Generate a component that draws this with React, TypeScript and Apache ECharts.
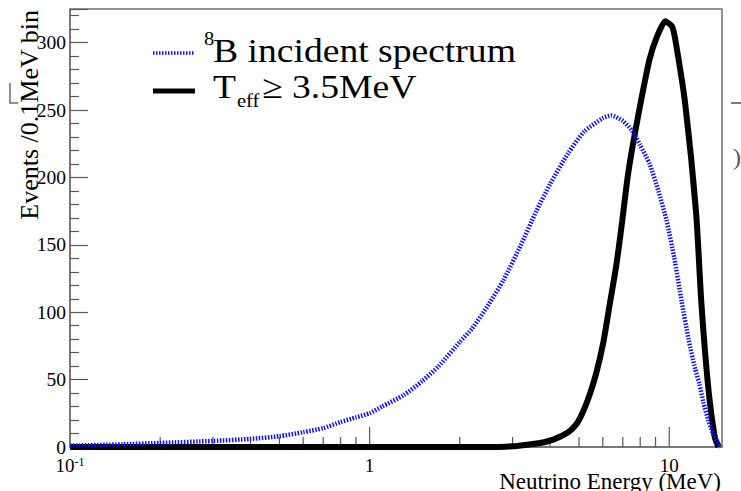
import React, { useEffect, useRef } from "react";
import * as echarts from "echarts";

const blueEnergy = [0.1, 0.15, 0.2, 0.3, 0.4, 0.5, 0.6, 0.7, 0.8, 0.9, 1.0, 1.1, 1.3, 1.5, 1.7, 2.0, 2.2, 2.5, 2.8, 3.2, 3.6, 4.0, 4.6, 5.2, 6.0, 6.4, 7.0, 7.5, 8.0, 8.6, 9.2, 9.8, 10.4, 11.0, 11.6, 12.2, 12.6, 13.0, 13.5, 14.0, 14.6, 14.9];
const blueValues = [1, 2, 3, 4.5, 6, 8, 11, 14, 18.5, 22, 25, 30, 38.5, 49, 60, 78, 88, 106, 124, 150, 175, 195, 218, 234, 244, 246, 242, 235, 224, 210, 190, 168, 140, 108, 80, 58, 47, 33, 20, 10, 2, 0];

const blackEnergy = [0.1, 1.0, 2.5, 3.0, 3.3, 3.7, 4.1, 4.6, 4.9, 5.13, 5.41, 5.71, 6.03, 6.31, 6.66, 6.97, 7.24, 7.53, 7.94, 8.58, 9.12, 9.7, 10.23, 10.5, 11.3, 12.3, 12.8, 13.5, 14.2, 14.6];
const blackValues = [0, 0, 0, 0.5, 1.5, 3, 5.5, 11, 17, 25, 38, 55, 78, 104, 135, 168, 198, 222, 250, 287, 305, 316, 312, 301, 255, 173, 107, 44, 7, 0];

const xMajorTicks = [1, 10];
const xMinorTicks = [0.2, 0.3, 0.4, 0.5, 0.6, 0.7, 0.8, 0.9, 2, 3, 4, 5, 6, 7, 8, 9];

const FONT = "Liberation Serif";
const FRAME = "#7d6b6b";
const TICK = "#5f5555";
const BLUE = "#1010ff";
const SX = 1.14;

const serif = (px: number) => `${px}px "Liberation Serif", "Times New Roman", serif`;

export default function App() {
  const ref = useRef<HTMLDivElement>(null);
  useEffect(() => {
    if (!ref.current) return;
    const chart = echarts.init(ref.current, undefined, { renderer: "svg" });
    chart.setOption({
      animation: false,
      backgroundColor: "#ffffff",
      textStyle: { fontFamily: FONT },
      grid: { left: 70, right: 19, top: 9, bottom: 44, show: true, borderColor: FRAME, borderWidth: 1.5, backgroundColor: "transparent" },
      xAxis: {
        type: "log",
        logBase: 10,
        min: 0.1,
        max: 15,
        axisLine: { show: true, lineStyle: { color: FRAME, width: 1.5 } },
        axisTick: { show: false },
        splitLine: { show: false },
        axisLabel: {
          margin: 9,
          showMaxLabel: false,
          fontFamily: FONT,
          fontSize: 19,
          color: "#000",
          formatter: (v: number) => (v < 0.5 ? "{b|10}{s|-1}" : String(Math.round(v))),
          rich: {
            b: { fontFamily: FONT, fontSize: 19, color: "#000" },
            s: { fontFamily: FONT, fontSize: 12, color: "#000", verticalAlign: "top", padding: [0, 0, 7, 0] },
          },
        },
      },
      yAxis: {
        type: "value",
        min: 0,
        max: 325,
        interval: 50,
        axisLine: { show: true, lineStyle: { color: FRAME, width: 1.5 } },
        axisTick: { show: true, inside: true, length: 18, lineStyle: { color: TICK, width: 1.2 } },
        minorTick: { show: true, splitNumber: 5, length: 9, lineStyle: { color: TICK, width: 1.2 } },
        splitLine: { show: false },
        axisLabel: { margin: 4, fontFamily: FONT, fontSize: 19.5, color: "#000", showMaxLabel: false },
      },
      series: [
        {
          type: "line",
          data: blueEnergy.map((e, i) => [e, blueValues[i]]),
          showSymbol: false,
          smooth: 0.2,
          lineStyle: { color: BLUE, width: 4.5, type: [1.5, 1.5], cap: "butt" },
          z: 3,
        },
        {
          type: "line",
          data: blackEnergy.map((e, i) => [e, blackValues[i]]),
          showSymbol: false,
          smooth: 0.2,
          lineStyle: { color: "#000", width: 6 },
          z: 2,
        },
      ],
    });

    const y0 = chart.convertToPixel({ yAxisIndex: 0 }, 0) as number;
    const tickLines: any[] = [];
    xMajorTicks.forEach((v) => {
      const x = chart.convertToPixel({ xAxisIndex: 0 }, v) as number;
      tickLines.push({ type: "line", shape: { x1: x, y1: y0, x2: x, y2: y0 - 20 }, style: { stroke: TICK, lineWidth: 1.2 }, z: 1 });
    });
    xMinorTicks.forEach((v) => {
      const x = chart.convertToPixel({ xAxisIndex: 0 }, v) as number;
      tickLines.push({ type: "line", shape: { x1: x, y1: y0, x2: x, y2: y0 - 10 }, style: { stroke: TICK, lineWidth: 1.2 }, z: 1 });
    });

    const legendText = (text: string, x: number, y: number, size: number) => ({
      type: "text",
      x,
      y,
      scaleX: SX,
      z: 10,
      style: { text, font: serif(size), fill: "#000", align: "left", verticalAlign: "middle" },
    });

    chart.setOption({
      graphic: [
        ...tickLines,
        {
          type: "text",
          x: 29,
          y: 10,
          rotation: Math.PI / 2,
          style: { text: "Events /0.1MeV bin", font: serif(26), fill: "#000", align: "right", verticalAlign: "middle" },
        },
        {
          type: "text",
          x: 721,
          y: 481,
          style: { text: "Neutrino Energy (MeV)", font: serif(23), fill: "#000", align: "right", verticalAlign: "middle" },
        },
        { type: "line", shape: { x1: 153, y1: 53, x2: 195, y2: 53 }, style: { stroke: BLUE, lineWidth: 3.5, lineDash: [1.5, 1.5] } },
        { type: "line", shape: { x1: 153, y1: 91, x2: 195, y2: 91 }, style: { stroke: "#000", lineWidth: 5 } },
        legendText("8", 204, 39, 18),
        legendText("B incident spectrum", 213, 51, 33),
        legendText("T", 213, 87, 33),
        legendText("eff", 237, 101, 18),
        legendText("≥ 3.5MeV", 262, 87, 33),
        { type: "polyline", shape: { points: [[10, 83], [10, 103], [18, 103]] }, style: { stroke: "#8a6060", lineWidth: 1.5, fill: null } },
        { type: "line", shape: { x1: 731, y1: 103, x2: 741, y2: 103 }, style: { stroke: "#5a4a4a", lineWidth: 1.5 } },
        { type: "text", x: 733, y: 157, style: { text: ")", font: serif(24), fill: "#555", verticalAlign: "middle" } },
      ],
    });

    return () => chart.dispose();
  }, []);
  return <div ref={ref} style={{ width: 741, height: 491, position: "absolute", left: 0, top: 0 }} />;
}
